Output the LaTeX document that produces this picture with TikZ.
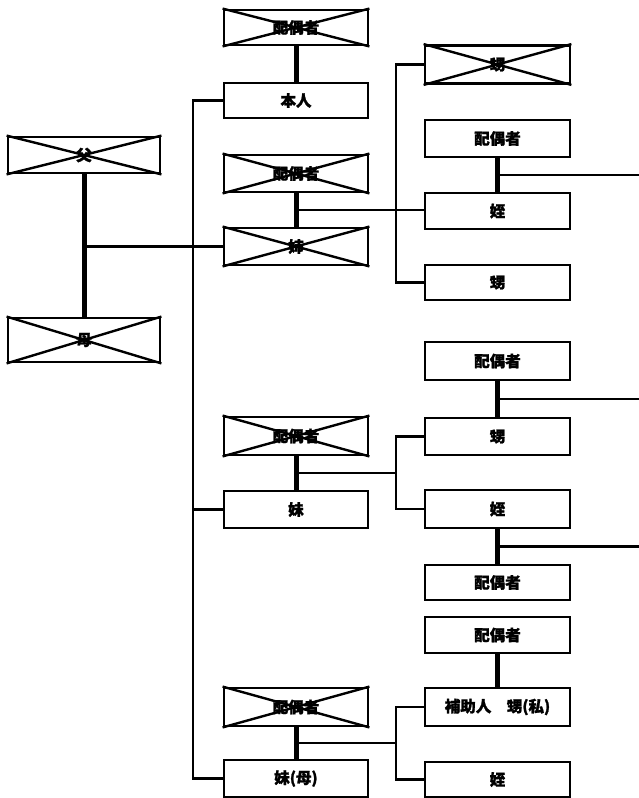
\documentclass[tikz,border=0pt]{standalone}
\usepackage{fontspec}
\newfontfamily\jp{Noto Sans CJK JP}[FakeBold=1.5]
\usetikzlibrary{calc}
\tikzset{
  box/.style={draw, line width=2.8pt, inner sep=0pt, minimum width=144pt,
    font=\jp\bfseries\fontsize{15.5}{15.5}\selectfont},
  thin/.style={line width=2.5pt},
  thick link/.style={line width=5pt},
  cross/.style={line width=2.4pt},
}
\begin{document}
\begin{tikzpicture}[x=1pt,y=-1pt]
\useasboundingbox (0,0) rectangle (639,798);

% parents
\node[box, minimum width=152pt, minimum height=36pt] (father) at (84,155) {父};
\node[box, minimum width=152pt, minimum height=44pt] (mother) at (84,340) {母};

% siblings and their spouses
\node[box, minimum height=35pt] (sp1) at (296,27.5) {配偶者};
\node[box, minimum height=35pt] (self) at (296,100.5) {本人};
\node[box, minimum height=37pt] (sp2) at (296,173.5) {配偶者};
\node[box, minimum height=37pt] (ane) at (296,246.5) {姉};
\node[box, minimum height=38pt] (sp3) at (296,436) {配偶者};
\node[box, minimum height=37pt] (imo) at (296,509.5) {妹};
\node[box, minimum height=38pt] (sp4) at (296,707) {配偶者};
\node[box, minimum height=37pt] (imohaha) at (296,778.5) {妹(母)};

% nephews, nieces and their spouses
\node[box, minimum width=145pt, minimum height=38pt] (oi1) at (497.5,64.5) {甥};
\node[box, minimum width=145pt, minimum height=37pt] (sp5) at (497.5,138.5) {配偶者};
\node[box, minimum width=145pt, minimum height=36pt] (mei1) at (497.5,211) {姪};
\node[box, minimum width=145pt, minimum height=35pt] (oi2) at (497.5,282.5) {甥};
\node[box, minimum width=145pt, minimum height=38pt] (sp6) at (497.5,361) {配偶者};
\node[box, minimum width=145pt, minimum height=37pt] (oi3) at (497.5,436.5) {甥};
\node[box, minimum width=145pt, minimum height=38pt] (mei2) at (497.5,509) {姪};
\node[box, minimum width=145pt, minimum height=35pt] (sp7) at (497.5,582.5) {配偶者};
\node[box, minimum width=145pt, minimum height=36pt] (sp8) at (497.5,635) {配偶者};
\node[box, minimum width=145pt, minimum height=38pt] (hojo) at (497.5,707) {補助人　甥(私)};
\node[box, minimum width=145pt, minimum height=35pt] (mei3) at (497.5,779.5) {姪};

% deceased persons are crossed out
\foreach \n in {father,mother,sp1,sp2,ane,sp3,sp4,oi1}
  \draw[cross] (\n.north west) -- (\n.south east) (\n.south west) -- (\n.north east);

% marriages
\draw[thick link] (father.south) -- (mother.north);
\draw[thick link] (sp1.south) -- (self.north);
\draw[thick link] (sp2.south) -- (ane.north);
\draw[thick link] (sp3.south) -- (imo.north);
\draw[thick link] (sp4.south) -- (imohaha.north);
\draw[thick link] (sp5.south) -- (mei1.north);
\draw[thick link] (sp6.south) -- (oi3.north);
\draw[thick link] (mei2.south) -- (sp7.north);
\draw[thick link] (sp8.south) -- (hojo.north);

% children of the parents
\coordinate (trunk) at (193,0);
\draw[thin] (father.south |- ane.west) -- (ane.west);
\draw[thin] (self.west) -| (trunk |- imohaha.west) -- (imohaha.west);
\draw[thin] (trunk |- imo.west) -- (imo.west);

% children of each sibling
\coordinate (fork) at (396,0);
\coordinate (m1) at ($(sp2.south)!0.5!(ane.north)$);
\draw[thin] (m1) -- (m1 -| mei1.west);
\draw[thin] (oi1.west) -| (fork |- oi2.west) -- (oi2.west);

\coordinate (m2) at ($(sp3.south)!0.5!(imo.north)$);
\draw[thin] (m2) -- (m2 -| fork);
\draw[thin] (oi3.west) -| (fork |- mei2.west) -- (mei2.west);

\coordinate (m3) at ($(sp4.south)!0.5!(imohaha.north)$);
\draw[thin] (m3) -- (m3 -| fork);
\draw[thin] (hojo.west) -| (fork |- mei3.west) -- (mei3.west);

% lines running on to the next generation
\coordinate (edge) at (639,0);
\coordinate (r1) at ($(sp5.south)!0.5!(mei1.north)$);
\coordinate (r2) at ($(sp6.south)!0.5!(oi3.north)$);
\coordinate (r3) at ($(mei2.south)!0.5!(sp7.north)$);
\draw[thin] (r1) -- (r1 -| edge);
\draw[thin] (r2) -- (r2 -| edge);
\draw[thin] (r3) -- (r3 -| edge);
\end{tikzpicture}
\end{document}
